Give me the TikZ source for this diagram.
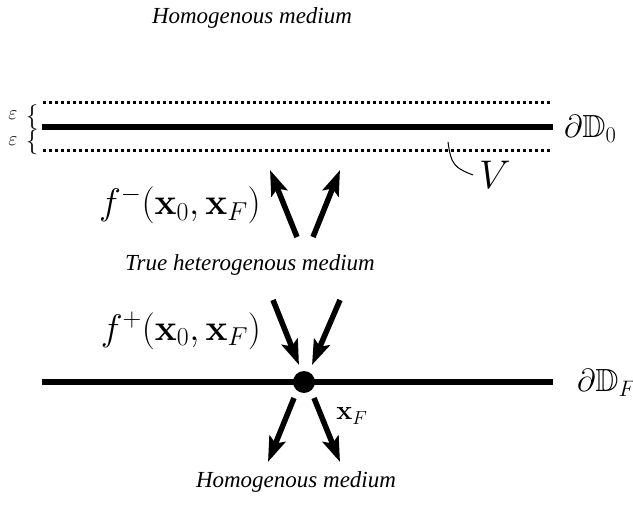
\RequirePackage{fix-cm}
\documentclass[tikz,border=0pt]{standalone}
\usepackage{amssymb}
\usepackage[no-math]{fontspec}
\setmainfont{Liberation Serif}
\usetikzlibrary{arrows.meta}
\tikzset{
  lbl/.style={font=\fontsize{23}{27}\selectfont\itshape, inner sep=0pt},
  mlbl/.style={font=\fontsize{37}{41}\selectfont, inner sep=0pt},
  blbl/.style={font=\fontsize{32}{36}\selectfont, inner sep=0pt},
  eps/.style={font=\fontsize{20}{23}\selectfont, inner sep=0pt},
  brc/.style={font=\fontsize{25}{28}\selectfont, inner sep=0pt},
  bound/.style={line width=6pt},
  dotline/.style={line width=3pt, dash pattern=on 3pt off 3pt},
  ray/.style={line width=5.5pt, -{Stealth[length=25pt,width=17pt,inset=5pt]}},
}
\begin{document}
\begin{tikzpicture}[x=1pt,y=-1pt]
\useasboundingbox (0,0) rectangle (633,505);
% labels
\node[lbl] (htop) at (252,18) {Homogenous medium};
\node[lbl] (true) at (250,265) {True heterogenous medium};
\node[lbl] (hbot) at (296,482) {Homogenous medium};
\node[mlbl] (fm) at (180,205) {$f^-(\mathbf{x}_0,\mathbf{x}_F)$};
\node[mlbl] (fp) at (181,331) {$f^+(\mathbf{x}_0,\mathbf{x}_F)$};
\node[blbl, anchor=west] (d0) at (564,129) {$\partial\mathbb{D}_0$};
\node[blbl, anchor=west] (dF) at (577,383) {$\partial\mathbb{D}_F$};
\node[font=\fontsize{27}{30}\selectfont, inner sep=0pt] (xF) at (352,416) {$\mathbf{x}_F$};
\node[font=\fontsize{40}{44}\selectfont, inner sep=0pt] (V) at (495,175) {$V$};
\node[eps] (e1) at (13,115) {$\varepsilon$};
\node[eps] (e2) at (13,141) {$\varepsilon$};
\node[brc] (br1) at (32,117) {$\{$};
\node[brc] (br2) at (32,142) {$\{$};
% boundaries
\coordinate (t1) at (43,103); \coordinate (t2) at (551,103);
\coordinate (s1) at (42,127); \coordinate (s2) at (553,127);
\coordinate (b1) at (43,151); \coordinate (b2) at (551,151);
\draw[dotline] (t1) -- (t2);
\draw[bound] (s1) -- (s2);
\draw[dotline] (b1) -- (b2);
\coordinate (F1) at (42,382); \coordinate (F2) at (553,382);
\draw[bound] (F1) -- (F2);
\node[circle, fill=black, minimum size=22pt, inner sep=0pt] (dot) at (304,382) {};
% V pointer
\coordinate (v0) at (448,142);
\coordinate (v1) at (473,175);
\draw[line width=1pt] (v0) .. controls (451,165) and (455,168) .. (v1);
% up arrows
\coordinate (u1a) at (297,237); \coordinate (u1b) at (270,170);
\coordinate (u2a) at (313,237); \coordinate (u2b) at (340,170);
\draw[ray] (u1a) -- (u1b);
\draw[ray] (u2a) -- (u2b);
% down arrows into dot
\coordinate (d1a) at (273,300); \coordinate (d1b) at (299,365);
\coordinate (d2a) at (340,300); \coordinate (d2b) at (312,365);
\draw[ray] (d1a) -- (d1b);
\draw[ray] (d2a) -- (d2b);
% arrows out of dot
\coordinate (o1a) at (294,398); \coordinate (o1b) at (268,462);
\coordinate (o2a) at (314,398); \coordinate (o2b) at (340,462);
\draw[ray] (o1a) -- (o1b);
\draw[ray] (o2a) -- (o2b);
\end{tikzpicture}
\end{document}
